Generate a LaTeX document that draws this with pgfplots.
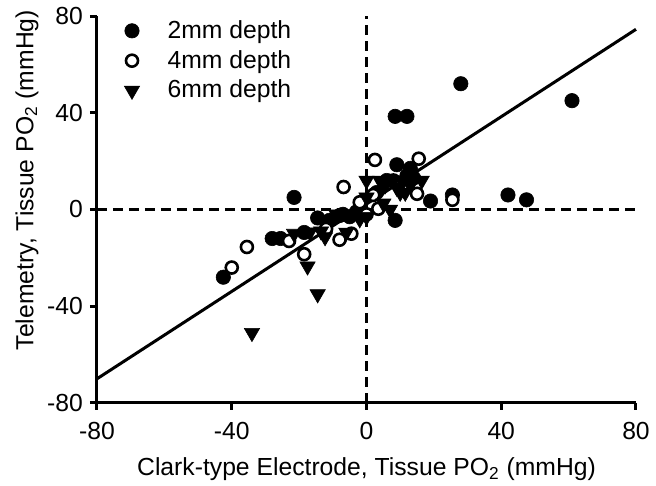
\documentclass[border=0pt]{standalone}
\usepackage{fontspec}
\setmainfont{Liberation Sans}
\usepackage{pgfplots}
\pgfplotsset{compat=1.18}
\begin{document}
\begin{tikzpicture}[font=\fontsize{12.4}{14.5}\selectfont]
\begin{axis}[
  name=ax,
  scale only axis,
  width=269.5bp, height=193.5bp,
  xmin=-80, xmax=80, ymin=-80, ymax=80,
  axis x line*=bottom, axis y line*=left,
  axis line style={line width=1.5bp},
  xtick={-80,-40,0,40,80}, ytick={-80,-40,0,40,80},
  tick align=outside, major tick length=3.5bp,
  tick style={line width=1.5bp, black},
  /pgf/number format/assume math mode=true,
  tick label style={font=\fontsize{12.4}{14.5}\selectfont},
  xticklabel style={yshift=-2.5bp},
  xlabel={Clark-type Electrode, Tissue PO\textsubscript{2} (mmHg)},
  ylabel={Telemetry, Tissue PO\textsubscript{2} (mmHg)},
  every axis x label/.style={at={(axis description cs:0.5,0)}, anchor=north, yshift=-24bp},
  every axis y label/.style={at={(axis description cs:-0.13,0.576)}, rotate=90, anchor=center},
  clip=false,
  legend style={at={(axis description cs:0,1)}, anchor=north west, xshift=10.5bp, yshift=2bp,
    draw=none, fill=none, font=\fontsize{12.4}{14.5}\selectfont, row sep=0.5bp, column sep=12bp,
    cells={anchor=west}},
]
\addplot[black, line width=1.4bp, dash pattern=on 5bp off 3bp, forget plot] coordinates {(-80,0) (80,0)};
\addplot[black, line width=1.4bp, dash pattern=on 5bp off 3bp, forget plot] coordinates {(0,-80) (0,80)};
\addplot[black, line width=1.5bp, forget plot] coordinates {(-80,-70) (80,74.5)};
% 2mm depth
\addplot[only marks, mark=*, mark size=3.6bp, mark options={fill=black, draw=black, line width=0.3bp}] coordinates {
(-42.5,-28) (-28,-12) (-25.5,-12) (-21.5,5) (-18.5,-9.5) (-14.5,-3.5) (-11,-4.5)
(-8,-2.5) (-7,-2) (-5,-3) (-3,-1) (-1,-2) (8.5,-4.5) (8.5,38.5) (12,38.5)
(9,18.5) (13,17) (12,14) (14,13) (19,3.5) (25.5,6) (28,52) (42,6) (47.5,4)
(61,45) (3,7) (6,12)
};
\addlegendentry{2mm depth}
% 4mm depth
\addplot[only marks, mark=*, mark size=3.0bp, mark options={fill=white, draw=black, line width=1.3bp}] coordinates {
(-40,-24) (-35.5,-15.5) (-23,-13) (-18.5,-18.5) (-8,-12.5) (-4.5,-10) (-6.8,9.3)
(2.5,20.5) (15.5,21) (15,6.5) (25.5,4) (3.5,0.3) (0,-2) (-2,3) (2,6) (8,12)
(12,10) (-12,-8)
};
\addlegendentry{4mm depth}
% 6mm depth
\addplot[only marks, mark=triangle*, mark size=4.4bp, mark options={rotate=180, fill=black, draw=black, line width=0.3bp}] coordinates {
(-34,-51) (-14.5,-35) (-17.5,-23.5) (-21.5,-10) (-16.8,-9.4) (-12.3,-11.4) (-13.5,-9)
(-9,-2) (-6,-9.5) (-2,-4) (0,-3) (0,12) (0,5) (4,12) (5.5,10) (8,12) (11,12)
(10,7) (11.5,7) (16.4,12) (5,2.5) (7,0) (9,9) (13,10)
};
\addlegendentry{6mm depth}
\end{axis}
\pgfresetboundingbox
\path ([shift={(-48.5bp,-41.5bp)}]ax.south west) rectangle ([shift={(10bp,8bp)}]ax.north east);
\end{tikzpicture}
\end{document}
